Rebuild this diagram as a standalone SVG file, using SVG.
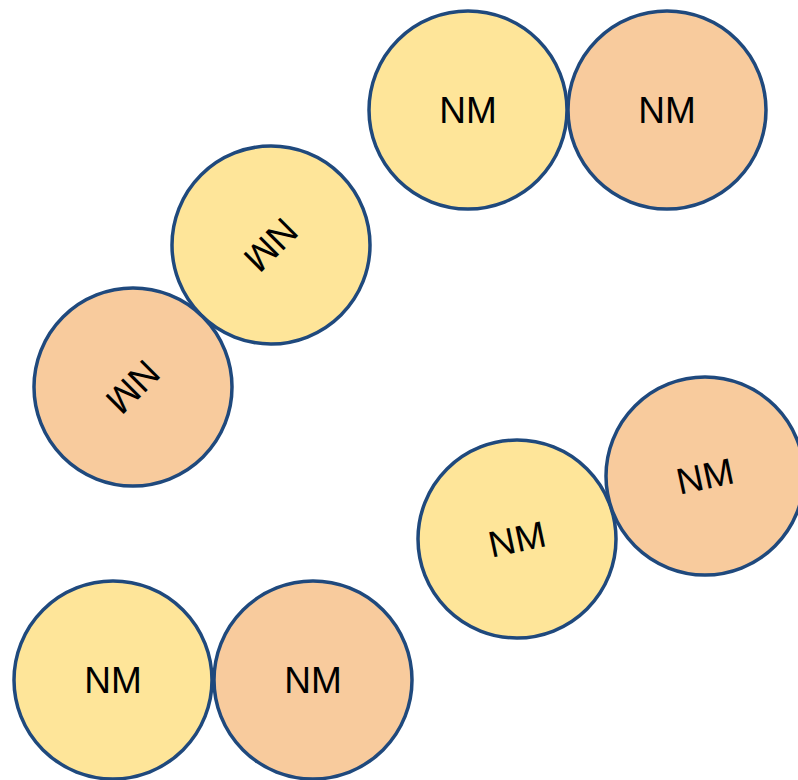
<svg xmlns="http://www.w3.org/2000/svg" width="798" height="780" viewBox="0 0 798 780">
  <style>
    .node { stroke: #1f497d; stroke-width: 3.5; }
    .yellow { fill: #fee599; }
    .orange { fill: #f8cb9d; }
    .label { font-size: 37px; fill: #000; text-anchor: middle; }
  </style>
  <rect width="798" height="780" fill="#ffffff"/>
  <g id="connectors"></g>

  <g font-family="'Liberation Sans', Arimo, Arial, sans-serif">
    <g id="node-top-yellow">
      <circle class="node yellow" cx="468" cy="110" r="99"/>
      <text class="label" x="468" y="123">NM</text>
    </g>
    <g id="node-top-orange">
      <circle class="node orange" cx="667" cy="110" r="99"/>
      <text class="label" x="667" y="123">NM</text>
    </g>

    <g id="node-mid-yellow">
      <circle class="node yellow" cx="271" cy="245" r="99"/>
      <text class="label" x="271" y="258" transform="rotate(135 271 245)">NM</text>
    </g>
    <g id="node-left-orange">
      <circle class="node orange" cx="133" cy="387" r="99"/>
      <text class="label" x="133" y="400" transform="rotate(135 133 387)">NM</text>
    </g>

    <g id="node-low-yellow">
      <circle class="node yellow" cx="517" cy="539" r="99"/>
      <text class="label" x="517" y="552" transform="rotate(-12 517 539)">NM</text>
    </g>
    <g id="node-low-orange">
      <circle class="node orange" cx="705" cy="476" r="99"/>
      <text class="label" x="705" y="489" transform="rotate(-12 705 476)">NM</text>
    </g>

    <g id="node-bottom-yellow">
      <circle class="node yellow" cx="113" cy="680" r="99"/>
      <text class="label" x="113" y="693">NM</text>
    </g>
    <g id="node-bottom-orange">
      <circle class="node orange" cx="313" cy="680" r="99"/>
      <text class="label" x="313" y="693">NM</text>
    </g>
  </g>
</svg>
